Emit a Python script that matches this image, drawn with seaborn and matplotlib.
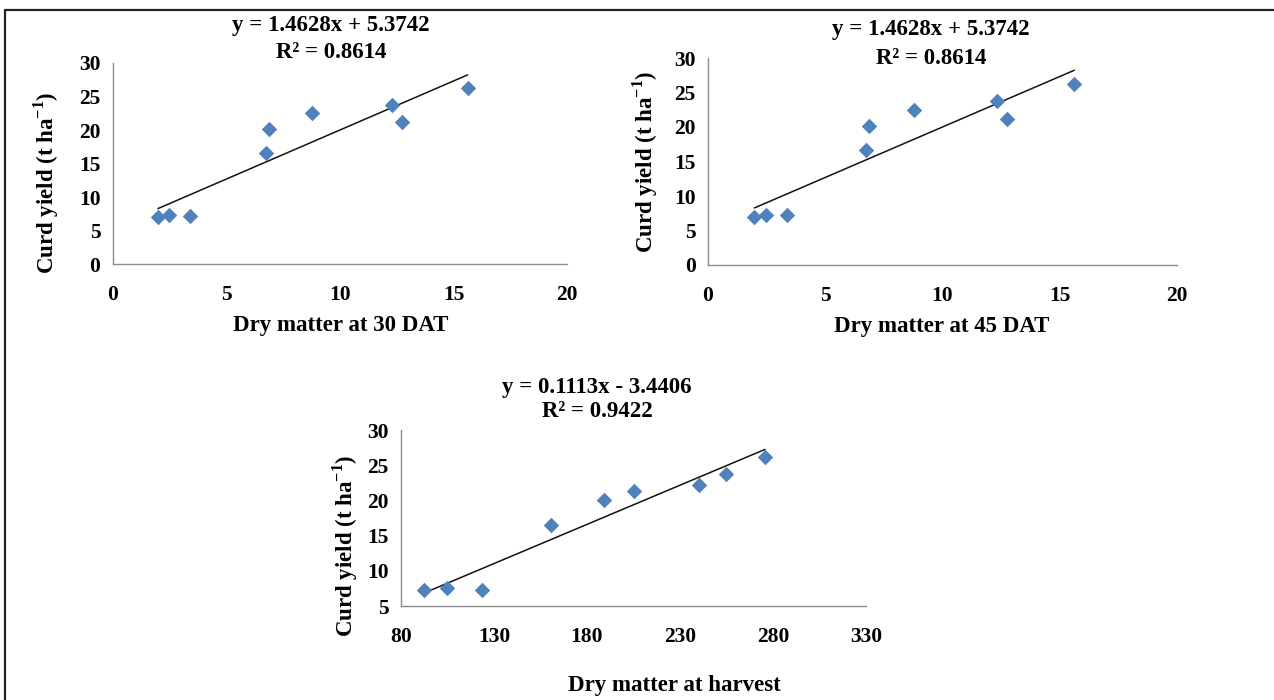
import matplotlib
matplotlib.use("Agg")
import matplotlib.pyplot as plt
from matplotlib.lines import Line2D
import numpy as np
import pandas as pd
import seaborn as sns

# Dry matter (g/plant) at three stages and the matching curd yield (t/ha)
dm_30dat = [1.98, 2.48, 3.38, 6.74, 6.88, 8.77, 12.31, 12.74, 15.62]
yield_30dat = [7.0, 7.3, 7.2, 16.6, 20.1, 22.5, 23.7, 21.2, 26.3]

dm_45dat = [1.98, 2.48, 3.38, 6.74, 6.88, 8.77, 12.31, 12.74, 15.62]
yield_45dat = [7.0, 7.3, 7.2, 16.6, 20.1, 22.5, 23.7, 21.2, 26.3]

dm_harvest = [92.2, 104.6, 123.6, 160.4, 188.9, 205.4, 240.1, 254.6, 275.7]
yield_harvest = [7.25, 7.5, 7.25, 16.5, 20.0, 21.3, 22.2, 23.7, 26.1]

# Linear trend lines (slope, intercept, R²)
fit_30dat = (1.4628, 5.3742, 0.8614)
fit_45dat = (1.4628, 5.3742, 0.8614)
fit_harvest = (0.1113, -3.4406, 0.9422)

x_labels = ["Dry matter at 30 DAT", "Dry matter at 45 DAT", "Dry matter at harvest"]
y_label = r"Curd yield (t ha$^{\mathbf{-1}}$)"

sns.set_theme(style="white")
plt.rcParams["font.family"] = ["Liberation Serif", "DejaVu Serif"]
plt.rcParams["font.weight"] = "bold"
plt.rcParams["mathtext.fontset"] = "custom"
plt.rcParams["mathtext.rm"] = "Liberation Serif:bold"
plt.rcParams["mathtext.bf"] = "Liberation Serif:bold"

W, H = 1274, 700
fig = plt.figure(figsize=(W / 100, H / 100), dpi=100)
fig.patch.set_facecolor("white")

MARKER_BLUE = "#4F81BD"
AXIS_GREY = "#8C8C8C"
FS_TEXT = 16.5
FS_TICK = 15.5


def px_axes(left, right, top, bottom):
    return fig.add_axes([left / W, 1 - bottom / H, (right - left) / W, (bottom - top) / H])


def fig_text(x, y, s, **kw):
    fig.text(x / W, 1 - y / H, s, ha="center", va="center", fontsize=FS_TEXT,
             fontweight="bold", color="black", **kw)


def draw_panel(ax, xs, ys, fit, xlim, xticks, ylim, yticks):
    df = pd.DataFrame({"dm": xs, "yield": ys})
    slope, intercept, _ = fit
    xr = np.array([min(xs), max(xs)])
    line_df = pd.DataFrame({"dm": xr, "yield": slope * xr + intercept})
    sns.lineplot(data=line_df, x="dm", y="yield", ax=ax, color="#111111",
                 linewidth=1.1, zorder=3)
    sns.scatterplot(data=df, x="dm", y="yield", ax=ax, marker="D", s=62,
                    color=MARKER_BLUE, linewidth=0, zorder=4)
    ax.set_xlim(*xlim)
    ax.set_ylim(*ylim)
    ax.set_xticks(xticks)
    ax.set_yticks(yticks)
    ax.set_xlabel("")
    ax.set_ylabel("")
    for side in ("top", "right"):
        ax.spines[side].set_visible(False)
    for side in ("left", "bottom"):
        ax.spines[side].set_color(AXIS_GREY)
        ax.spines[side].set_linewidth(1.0)
    ax.tick_params(axis="both", direction="out", length=5, width=1.0,
                   color=AXIS_GREY, labelcolor="black", labelsize=FS_TICK, pad=4)
    ax.tick_params(axis="x", pad=10)
    for lab in ax.get_xticklabels() + ax.get_yticklabels():
        lab.set_fontweight("bold")
    ax.patch.set_visible(False)


ax1 = px_axes(113, 567, 63, 264)
draw_panel(ax1, dm_30dat, yield_30dat, fit_30dat, (0, 20), [0, 5, 10, 15, 20],
           (0, 30), [0, 5, 10, 15, 20, 25, 30])
ax2 = px_axes(708, 1177, 58, 265)
draw_panel(ax2, dm_45dat, yield_45dat, fit_45dat, (0, 20), [0, 5, 10, 15, 20],
           (0, 30), [0, 5, 10, 15, 20, 25, 30])
ax3 = px_axes(401, 866, 430, 606)
draw_panel(ax3, dm_harvest, yield_harvest, fit_harvest, (80, 330),
           [80, 130, 180, 230, 280, 330], (5, 30), [5, 10, 15, 20, 25, 30])


def eq_text(fit):
    slope, intercept, r2 = fit
    sign = "+" if intercept >= 0 else "-"
    return f"y = {slope:.4f}x {sign} {abs(intercept):.4f}", f"R² = {r2:.4f}"


for (cx, y1, y2), fit in zip([(331, 25, 52), (931, 30, 58), (597, 387, 411)],
                             [fit_30dat, fit_45dat, fit_harvest]):
    l1, l2 = eq_text(fit)
    fig_text(cx, y1, l1)
    fig_text(cx, y2, l2)

fig_text(341, 326, x_labels[0])
fig_text(942, 327, x_labels[1])
fig_text(674, 686, x_labels[2])

fig_text(46, 183, y_label, rotation=90)
fig_text(645, 162, y_label, rotation=90)
fig_text(345, 546, y_label, rotation=90)

# Frame lines along the top and left edges
fig.add_artist(Line2D([5 / W, 5 / W], [0, 1 - 10 / H], transform=fig.transFigure,
                      color="#222222", linewidth=1.6))
fig.add_artist(Line2D([5 / W, 1], [1 - 10 / H, 1 - 10 / H], transform=fig.transFigure,
                      color="#222222", linewidth=1.6))

fig.savefig("out.png", dpi=100, facecolor="white")
